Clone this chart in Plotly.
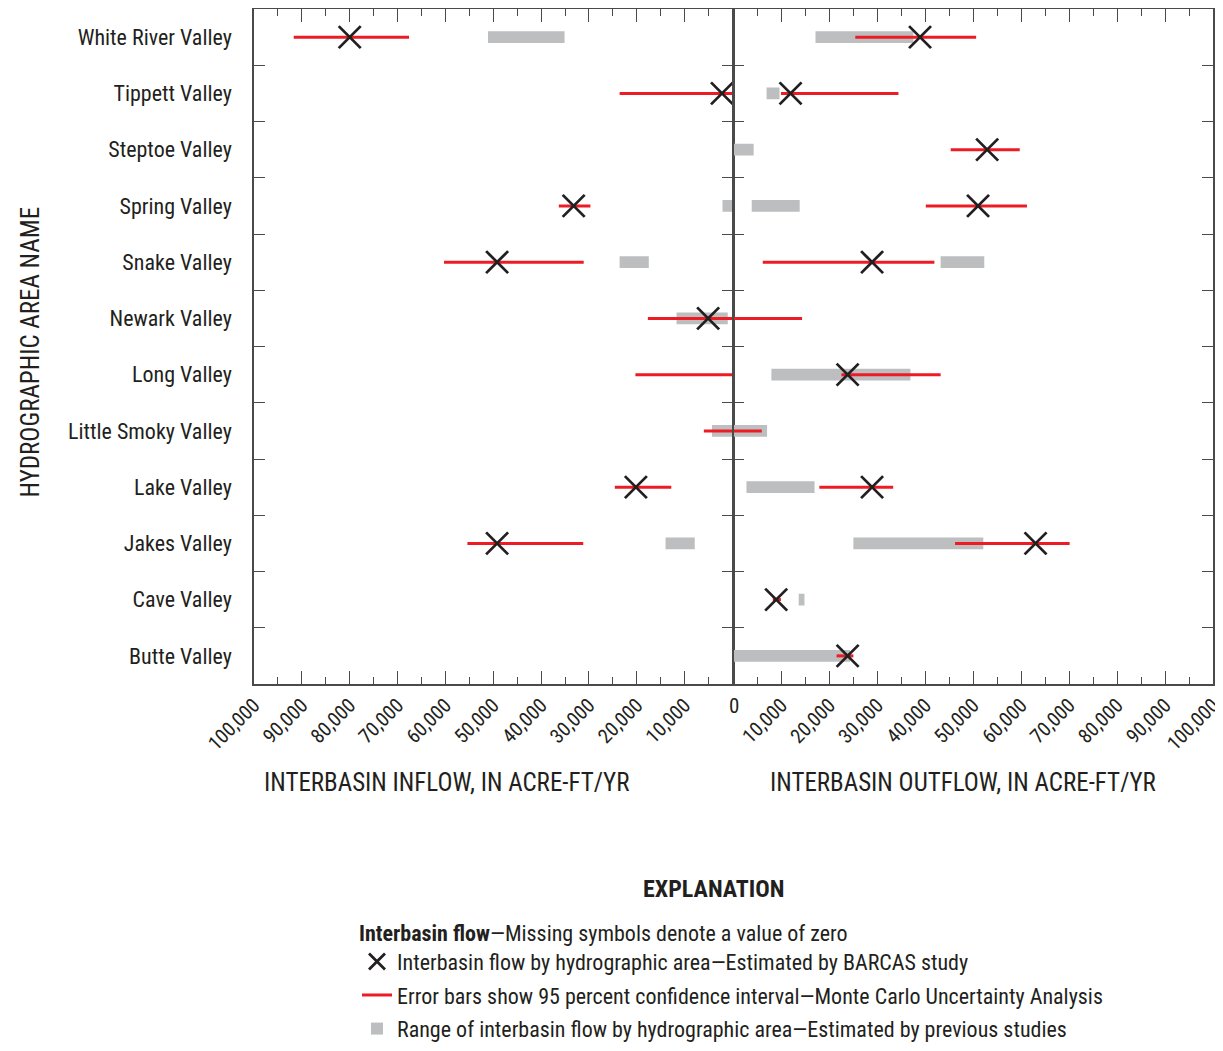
import plotly.graph_objects as go

# ---------------- data (acre-ft/yr) ----------------
categories = ["White River Valley", "Tippett Valley", "Steptoe Valley", "Spring Valley",
              "Snake Valley", "Newark Valley", "Long Valley", "Little Smoky Valley",
              "Lake Valley", "Jakes Valley", "Cave Valley", "Butte Valley"]

# Inflow (left panel)
inflow_est = [80000, 2200, None, 33200, 49200, 5100, None, None, 20200, 49200, None, None]
inflow_ci_low = [67600, 0, None, 29700, 31100, 0, 0, 0, 12800, 31200, None, None]
inflow_ci_high = [91700, 23600, None, 36300, 60300, 17700, 20300, 6000, 24600, 55400, None, None]
inflow_prev_low = [35100, None, None, 0, 17500, 1000, None, 0, None, 7900, None, None]
inflow_prev_high = [51100, None, None, 2100, 23600, 11700, None, 4300, None, 14000, None, None]

# Outflow (right panel)
outflow_est = [38900, 11900, 52900, 51000, 28900, None, 23800, None, 28900, 63000, 8900, 23800]
outflow_ci_low = [25400, 9900, 45300, 40100, 6100, 0, 22500, 0, 17900, 46200, 8200, 21500]
outflow_ci_high = [50600, 34400, 59700, 61200, 41900, 14300, 43200, 5900, 33300, 70100, 9900, 25000]
outflow_prev_low = [17100, 6900, 0, 3800, 43200, None, 7900, 0, 2700, 25000, 13600, 0]
outflow_prev_high = [37500, 9600, 4200, 13800, 52300, None, 36900, 7000, 16900, 52100, 14800, 24300]

tick_values = [10000, 20000, 30000, 40000, 50000, 60000, 70000, 80000, 90000, 100000]
tick_labels = ["10,000", "20,000", "30,000", "40,000", "50,000", "60,000", "70,000",
               "80,000", "90,000", "100,000"]

# ---------------- style ----------------
FONT = "Liberation Sans Narrow, Arial Narrow, Roboto Condensed, Roboto, sans-serif"
INK = "#231f20"
AXIS = "#4a4a4a"
RED = "#ed1c24"
GRAY = "#bcbec0"

# page body has an 8px margin; figure is sized/offset to compensate
W, H = 1215, 1043
ML, MR, MT, MB = 246, 10, 1, 364
PW, PH = W - ML - MR, H - MT - MB   # plot area size in px


def px_x(sx):   # screen x -> paper x
    return (sx - 8 - ML) / PW


def px_y(sy):   # screen y -> paper y
    return (H - MB - (sy - 8)) / PH


fig = go.Figure()


def add_panel(xaxis, yaxis, est, ci_lo, ci_hi, pr_lo, pr_hi, legend):
    ys, bases, lens = [], [], []
    for c, lo, hi in zip(categories, pr_lo, pr_hi):
        if lo is not None and hi is not None:
            ys.append(c)
            bases.append(lo)
            lens.append(hi - lo)
    fig.add_trace(go.Bar(
        y=ys, x=lens, base=bases, orientation="h", width=0.21,
        marker=dict(color=GRAY, line=dict(width=0)),
        name="Range of interbasin flow by hydrographic area—Estimated by previous studies",
        showlegend=legend, legendrank=3, legendgroup="c_prev",
        xaxis=xaxis, yaxis=yaxis, hoverinfo="skip"))
    xs, yl = [], []
    for c, lo, hi in zip(categories, ci_lo, ci_hi):
        if lo is not None and hi is not None:
            xs += [lo, hi, None]
            yl += [c, c, None]
    fig.add_trace(go.Scatter(
        x=xs, y=yl, mode="lines", line=dict(color=RED, width=3),
        name="Error bars show 95 percent confidence interval—Monte Carlo Uncertainty Analysis",
        showlegend=legend, legendrank=2, legendgroup="b_ci",
        xaxis=xaxis, yaxis=yaxis, hoverinfo="skip"))
    xm, ym = [], []
    for c, v in zip(categories, est):
        if v is not None:
            xm.append(v)
            ym.append(c)
    fig.add_trace(go.Scatter(
        x=xm, y=ym, mode="markers",
        marker=dict(symbol="x-thin", size=22, line=dict(width=2.8, color=INK), color=INK),
        name="Interbasin flow by hydrographic area—Estimated by BARCAS study",
        showlegend=legend, legendrank=1, legendgroup="a_est",
        xaxis=xaxis, yaxis=yaxis))


add_panel("x", "y", inflow_est, inflow_ci_low, inflow_ci_high, inflow_prev_low, inflow_prev_high, True)
add_panel("x2", "y2", outflow_est, outflow_ci_low, outflow_ci_high, outflow_prev_low, outflow_prev_high, False)

xcommon = dict(
    showline=True, linecolor=AXIS, linewidth=1.5, mirror="ticks",
    ticks="inside", ticklen=13, tickwidth=1.3, tickcolor=AXIS,
    minor=dict(dtick=5000, tick0=0, ticks="inside", ticklen=7, tickwidth=1.3, tickcolor=AXIS),
    tickvals=tick_values, ticktext=tick_labels, tickangle=-45,
    tickfont=dict(family=FONT, size=20, color=INK), ticklabeloverflow="allow",
    showgrid=False, zeroline=False, fixedrange=True, automargin=False,
)
ycommon = dict(
    type="category", categoryorder="array", categoryarray=categories,
    range=[len(categories) - 0.5, -0.5],
    showline=True, linecolor=AXIS, linewidth=1.5, mirror="ticks",
    ticks="inside", ticklen=11, tickwidth=1.3, tickcolor=AXIS, tickson="boundaries",
    showgrid=False, zeroline=False, automargin=False, fixedrange=True,
)

fig.update_layout(
    width=W, height=H,
    margin=dict(l=ML, r=MR, t=MT, b=MB),
    paper_bgcolor="white", plot_bgcolor="white",
    barmode="overlay",
    font=dict(family=FONT, color=INK, size=20),
    xaxis=dict(domain=[0, 0.499], range=[100000, 0], anchor="y", **xcommon),
    xaxis2=dict(domain=[0.5, 1], range=[0, 100000], anchor="y2", **xcommon),
    yaxis=dict(anchor="x", tickfont=dict(family=FONT, size=22, color=INK),
               ticklabelstandoff=16, **ycommon),
    yaxis2=dict(anchor="x2", matches="y", showticklabels=False, **ycommon),
    legend=dict(
        x=px_x(357), xanchor="left", y=px_y(916), yanchor="top",
        font=dict(family=FONT, size=22, color=INK),
        title=dict(text="<b>Interbasin flow</b>—Missing symbols denote a value of zero",
                   font=dict(family=FONT, size=22, color=INK), side="top"),
        traceorder="grouped", itemwidth=30, bgcolor="rgba(0,0,0,0)",
        tracegroupgap=2,
    ),
    annotations=[
        dict(text="0", x=0, xref="x2", y=0, yref="paper", yanchor="top", yshift=-8,
             xanchor="center", showarrow=False, font=dict(family=FONT, size=21, color=INK)),
        dict(text="INTERBASIN INFLOW, IN ACRE-FT/YR", x=px_x(446), xref="paper",
             xanchor="center", y=px_y(786), yref="paper", yanchor="middle",
             showarrow=False, font=dict(family=FONT, size=25, color=INK)),
        dict(text="INTERBASIN OUTFLOW, IN ACRE-FT/YR", x=px_x(963), xref="paper",
             xanchor="center", y=px_y(786), yref="paper", yanchor="middle",
             showarrow=False, font=dict(family=FONT, size=25, color=INK)),
        dict(text="HYDROGRAPHIC AREA NAME", x=px_x(30), xref="paper", xanchor="center",
             y=px_y(354), yref="paper", yanchor="middle", textangle=-90, showarrow=False,
             font=dict(family=FONT, size=25, color=INK)),
        dict(text="<b>EXPLANATION</b>", x=px_x(713), xref="paper", xanchor="center",
             y=px_y(893), yref="paper", yanchor="middle",
             showarrow=False, font=dict(family=FONT, size=24, color=INK)),
    ],
)

fig.write_html("out.html")
